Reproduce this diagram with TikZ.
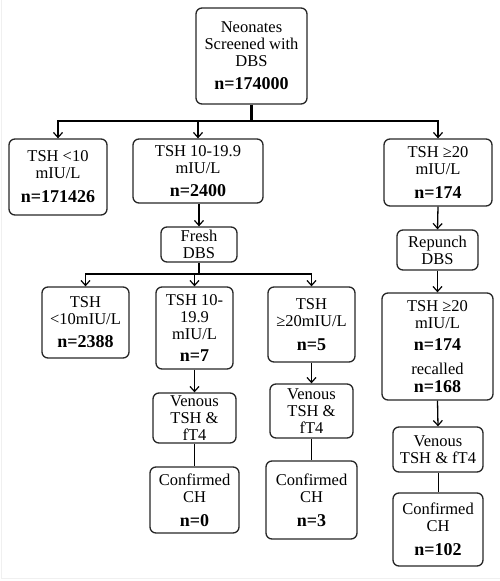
\documentclass[tikz,border=0pt]{standalone}
\usepackage{fontspec}
\setmainfont{Liberation Serif}
\usetikzlibrary{arrows.meta}
\begin{document}
\begin{tikzpicture}[x=1pt,y=-1pt,
  box/.style={draw=black!85, line width=1.3pt, rounded corners=6pt, align=center, inner sep=0pt,
    font=\fontsize{16.5}{17}\selectfont},
  arr/.style={line width=1.3pt, -{Straight Barb[length=5pt,width=9pt,line width=1.2pt]}},
  ln/.style={line width=1.3pt}]
\useasboundingbox (0,0) rectangle (500,581);
\draw[gray!12, line width=1pt] (1,0) -- (1,578.5) -- (500,578.5);
\newcommand{\nb}[1]{{\fontsize{18}{17}\selectfont\bfseries #1}}
% level 0
\node[box, minimum width=111pt, minimum height=96pt] (top) at (251.5,56) {Neonates\\Screened with\\DBS\\[6pt]\nb{n=174000}};
% level 1
\node[box, minimum width=98pt, minimum height=76pt] (l1) at (58,177) {TSH <10\\mIU/L\\[7pt]\nb{n=171426}};
\node[box, minimum width=130pt, minimum height=64pt] (m1) at (198,171) {TSH 10-19.9\\mIU/L\\[6pt]\nb{n=2400}};
\node[box, minimum width=108pt, minimum height=67pt] (r1) at (438,172.5) {TSH ≥20\\mIU/L\\[7pt]\nb{n=174}};
% level 2
\node[box, minimum width=76pt, minimum height=35pt] (fresh) at (199,244.5) {Fresh\\DBS};
\node[box, minimum width=81pt, minimum height=40pt] (rep) at (437.5,250) {Repunch\\DBS};
% level 3
\node[box, minimum width=87pt, minimum height=71pt] (l2) at (85.5,322.5) {TSH\\<10mIU/L\\[6pt]\nb{n=2388}};
\node[box, minimum width=77pt, minimum height=82pt] (m2) at (194.5,328) {TSH 10-\\19.9\\mIU/L\\[5pt]\nb{n=7}};
\node[box, minimum width=87pt, minimum height=75pt] (r2) at (311.5,324.5) {TSH\\≥20mIU/L\\[7pt]\nb{n=5}};
\node[box, minimum width=111pt, minimum height=107pt] (r3) at (437.5,346.5) {TSH ≥20\\mIU/L\\[5pt]\nb{n=174}\\[7pt]recalled\\[1pt]\nb{n=168}};
% level 4
\node[box, minimum width=83pt, minimum height=50pt] (vm) at (194.5,418) {Venous\\TSH \&\\fT4};
\node[box, minimum width=83pt, minimum height=54pt] (vr2) at (311.5,411) {Venous\\TSH \&\\fT4};
\node[box, minimum width=90pt, minimum height=45pt] (vr) at (438,449.5) {Venous\\TSH \& fT4};
% level 5
\node[box, minimum width=89pt, minimum height=66pt] (cm) at (194.5,500) {Confirmed\\CH\\[7pt]\nb{n=0}};
\node[box, minimum width=91pt, minimum height=78pt] (cr2) at (311.5,500) {Confirmed\\CH\\[7pt]\nb{n=3}};
\node[box, minimum width=90pt, minimum height=73pt] (cr) at (438,529.5) {Confirmed\\CH\\[7pt]\nb{n=102}};
% connectors
\coordinate (bus1) at (251.5,121);
\draw[line width=2.2pt] (top.south) -- (bus1);
\draw[arr] (bus1) -| (l1.north);
\draw[arr] (bus1) -| (m1.north);
\draw[arr] (bus1) -| (r1.north);
\draw[arr] (m1.south -| fresh.north) -- (fresh.north);
\coordinate (bus2) at (199,274);
\draw[ln] (fresh.south) -- (bus2);
\draw[arr] (bus2) -| (l2.north);
\draw[arr] (bus2) -| (m2.north);
\draw[arr] (bus2) -| (r2.north);
\draw[arr] (r1.south) -- (rep.north);
\draw[arr] (rep.south) -- (r3.north);
\draw[arr] (m2.south) -- (vm.north);
\draw[arr] (r2.south) -- (vr2.north);
\draw[arr] (r3.south) -- (vr.north);
\draw[ln, line width=1pt] (vm.south) -- (cm.north);
\draw[ln, line width=1pt] (vr2.south) -- (cr2.north);
\draw[ln, line width=1pt] (vr.south) -- (cr.north);
\end{tikzpicture}
\end{document}
